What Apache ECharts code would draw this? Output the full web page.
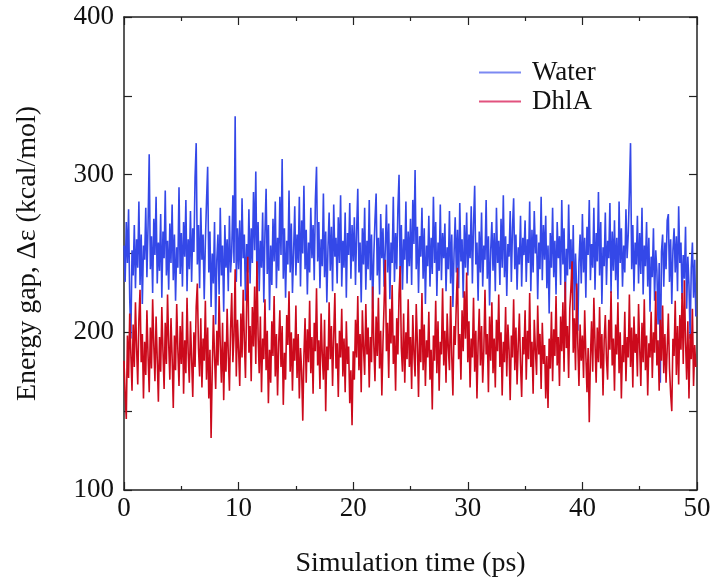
<!DOCTYPE html>
<html>
<head>
<meta charset="utf-8">
<script src="https://cdn.jsdelivr.net/npm/echarts@6/dist/echarts.min.js"></script>
<style>html,body{margin:0;padding:0;background:#fff}#c{width:714px;height:586px}</style>
</head>
<body>
<div id="c"></div>
<script>
// time step (ps) between samples
var timeStep = 0.1;
var xTicks = [0, 10, 20, 30, 40, 50];
var yTicks = [100, 200, 300, 400];

var water = [
255,232,270,244,278,221,196,252,236,268,
228,259,241,283,230,262,218,255,246,279,
235,268,313,240,261,225,272,249,286,231,
257,239,275,222,264,247,290,236,258,227,
269,244,281,233,262,220,254,241,292,237,
263,229,270,248,284,226,259,240,277,232,
266,251,298,320,243,268,228,279,246,262,
221,257,283,305,238,264,216,250,231,270,
205,246,262,224,279,236,255,213,268,241,
259,226,274,238,251,287,244,337,232,266,
240,271,229,285,247,262,220,256,238,278,
231,266,244,289,252,302,235,270,226,258,
241,276,219,263,291,237,268,214,255,230,
272,245,283,228,260,239,286,249,310,234,
266,222,258,243,290,238,269,225,251,280,
236,262,244,286,229,271,250,293,240,265,
224,257,238,279,247,268,233,284,305,245,
270,228,259,242,288,235,264,219,254,276,
239,267,226,281,248,260,231,273,244,287,
229,258,241,276,222,263,249,282,234,268,
245,273,230,264,291,238,257,219,266,243,
279,227,258,240,284,233,262,215,249,271,
288,236,260,224,275,247,266,229,253,281,
238,269,221,257,244,286,232,263,240,278,
300,235,268,227,259,246,283,231,264,242,
272,230,284,256,303,240,267,225,261,248,
279,234,266,218,255,242,274,229,260,237,
286,244,270,223,257,239,281,233,263,247,
269,226,254,240,277,231,262,216,250,273,
238,265,228,282,245,259,222,268,241,276,
236,262,247,280,231,268,293,243,257,220,
264,238,276,229,255,246,284,234,261,217,
252,270,239,263,226,279,244,258,230,272,
241,287,235,261,223,256,248,277,232,266,
285,240,262,227,254,243,274,229,260,249,
271,232,259,244,283,226,265,238,277,250,
262,221,257,240,286,233,268,246,274,228,
255,212,263,241,279,235,258,224,270,247,
261,230,284,243,266,219,253,236,281,240,
259,225,268,214,250,228,201,244,262,231,
275,238,260,222,267,249,284,233,256,241,
279,227,263,245,289,236,270,218,254,242,
276,230,258,247,282,225,264,239,271,233,
260,221,283,244,266,229,255,238,278,247,
262,289,320,240,268,226,257,243,274,231,
263,237,279,224,255,242,270,229,260,213,
248,235,266,220,252,239,205,244,168,251,
262,229,257,240,271,275,232,259,218,252,
266,238,261,226,280,244,257,221,249,234,
267,215,248,230,196,241,257,222,246,210
];

var dhla = [
182,160,145,198,171,212,186,163,205,178,
219,190,167,208,227,181,199,158,194,173,
214,185,162,203,177,221,192,169,210,183,
156,197,175,216,188,164,206,180,224,193,
170,209,184,152,198,176,218,189,166,204,
180,213,161,195,174,222,187,168,207,183,
159,200,178,216,231,190,172,209,165,196,
182,220,170,203,158,189,133,176,211,185,
164,201,179,223,192,168,206,157,194,175,
215,186,163,202,225,181,198,240,172,208,
189,166,212,184,227,195,171,218,248,187,
204,169,216,191,229,180,245,198,174,210,
162,196,183,221,176,201,155,189,168,207,
185,223,172,199,160,193,214,178,204,154,
187,170,211,192,226,175,200,163,196,182,
217,171,199,158,190,176,144,185,209,168,
202,181,220,174,197,161,206,188,228,179,
195,164,212,186,170,208,150,191,176,219,
183,204,166,198,225,177,193,159,201,184,
215,172,196,162,207,180,191,155,176,141,
188,170,208,184,223,176,199,162,214,190,
173,218,186,203,165,197,181,229,192,169,
210,185,222,177,201,160,194,219,246,188,
206,171,215,193,230,180,198,163,209,186,
224,242,190,175,212,168,200,183,221,178,
197,164,211,187,172,218,193,159,202,181,
225,176,205,166,195,184,213,170,189,151,
198,182,220,174,207,163,194,186,228,179,
201,168,212,190,176,223,185,160,204,192,
219,241,183,199,170,214,188,226,196,238,
181,207,165,196,184,222,175,201,158,193,
215,179,204,168,189,227,186,199,162,210,
182,219,174,196,165,208,188,224,178,200,
160,194,181,216,172,205,189,157,198,184,
221,176,203,167,192,212,180,159,197,186,
214,170,201,183,225,178,194,161,208,189,
173,217,186,199,164,206,180,192,158,185,
152,196,177,213,169,202,185,223,179,197,
166,210,188,219,175,232,190,204,171,215,
228,245,187,209,176,231,193,166,205,182,
198,171,214,186,162,190,143,184,207,175,
222,193,168,203,181,216,177,199,160,195,
211,183,170,208,189,226,179,196,163,205,
186,219,174,200,158,192,181,213,169,197,
184,224,178,203,165,210,187,199,172,218,
190,166,206,181,221,176,198,160,193,184,
213,171,200,187,226,179,195,163,208,182,
217,174,199,168,190,212,177,161,150,196,
185,220,173,204,167,211,189,225,180,233,
194,170,207,158,199,183,215,166,192,178
];

function pairs(arr) {
  return arr.map(function (v, i) { return [+(i * timeStep).toFixed(2), v]; });
}

var font = 'Liberation Serif, Times New Roman, serif';
var axisColor = '#222';

function xAxisCfg(pos, show) {
  return {
    type: 'value', position: pos, min: xTicks[0], max: xTicks[xTicks.length - 1], interval: 10,
    axisLine: { show: true, onZero: false, lineStyle: { color: axisColor, width: 1.5 } },
    axisTick: { show: true, inside: true, length: 8, lineStyle: { color: axisColor, width: 1.2 } },
    minorTick: { show: true, splitNumber: 2, length: 4, lineStyle: { color: axisColor, width: 1.2 } },
    splitLine: { show: false },
    axisLabel: { show: show, color: '#111', fontFamily: font, fontSize: 27, margin: 5 },
    name: show ? 'Simulation time (ps)' : '', nameLocation: 'middle', nameGap: 60,
    nameTextStyle: { color: '#111', fontFamily: font, fontSize: 28 }
  };
}
function yAxisCfg(pos, show) {
  return {
    type: 'value', position: pos, min: yTicks[0], max: yTicks[yTicks.length - 1], interval: 100,
    axisLine: { show: true, onZero: false, lineStyle: { color: axisColor, width: 1.5 } },
    axisTick: { show: true, inside: true, length: 8, lineStyle: { color: axisColor, width: 1.2 } },
    minorTick: { show: true, splitNumber: 2, length: 8, lineStyle: { color: axisColor, width: 1.2 } },
    splitLine: { show: false },
    axisLabel: { show: show, color: '#111', fontFamily: font, fontSize: 27, margin: 10 },
    name: show ? 'Energy gap, Δε (kcal/mol)' : '', nameLocation: 'middle', nameGap: 82,
    nameTextStyle: { color: '#111', fontFamily: font, fontSize: 28 }
  };
}

var chart = echarts.init(document.getElementById('c'), null, { renderer: 'canvas' });
chart.setOption({
  animation: false,
  backgroundColor: '#fff',
  grid: { left: 124, right: 17, top: 17, bottom: 96 },
  legend: {
    orient: 'vertical', left: 474, top: 54, itemWidth: 42, itemHeight: 2, itemGap: 2,
    icon: 'rect',
    textStyle: { fontFamily: font, fontSize: 27, color: '#111', padding: [0, 0, 0, 6] },
    data: [
      { name: 'Water', itemStyle: { color: '#7c89f2' } },
      { name: 'DhlA', itemStyle: { color: '#e2527e' } }
    ]
  },
  xAxis: [xAxisCfg('bottom', true), xAxisCfg('top', false)],
  yAxis: [yAxisCfg('left', true), yAxisCfg('right', false)],
  series: [
    { name: 'Water', type: 'line', data: pairs(water), showSymbol: false, symbol: 'none',
      lineStyle: { color: '#3448e8', width: 1.6 }, itemStyle: { color: '#3448e8' } },
    { name: 'DhlA', type: 'line', data: pairs(dhla), showSymbol: false, symbol: 'none',
      lineStyle: { color: '#cc0a1c', width: 1.6 }, itemStyle: { color: '#cc0a1c' } }
  ]
});
</script>
</body>
</html>
